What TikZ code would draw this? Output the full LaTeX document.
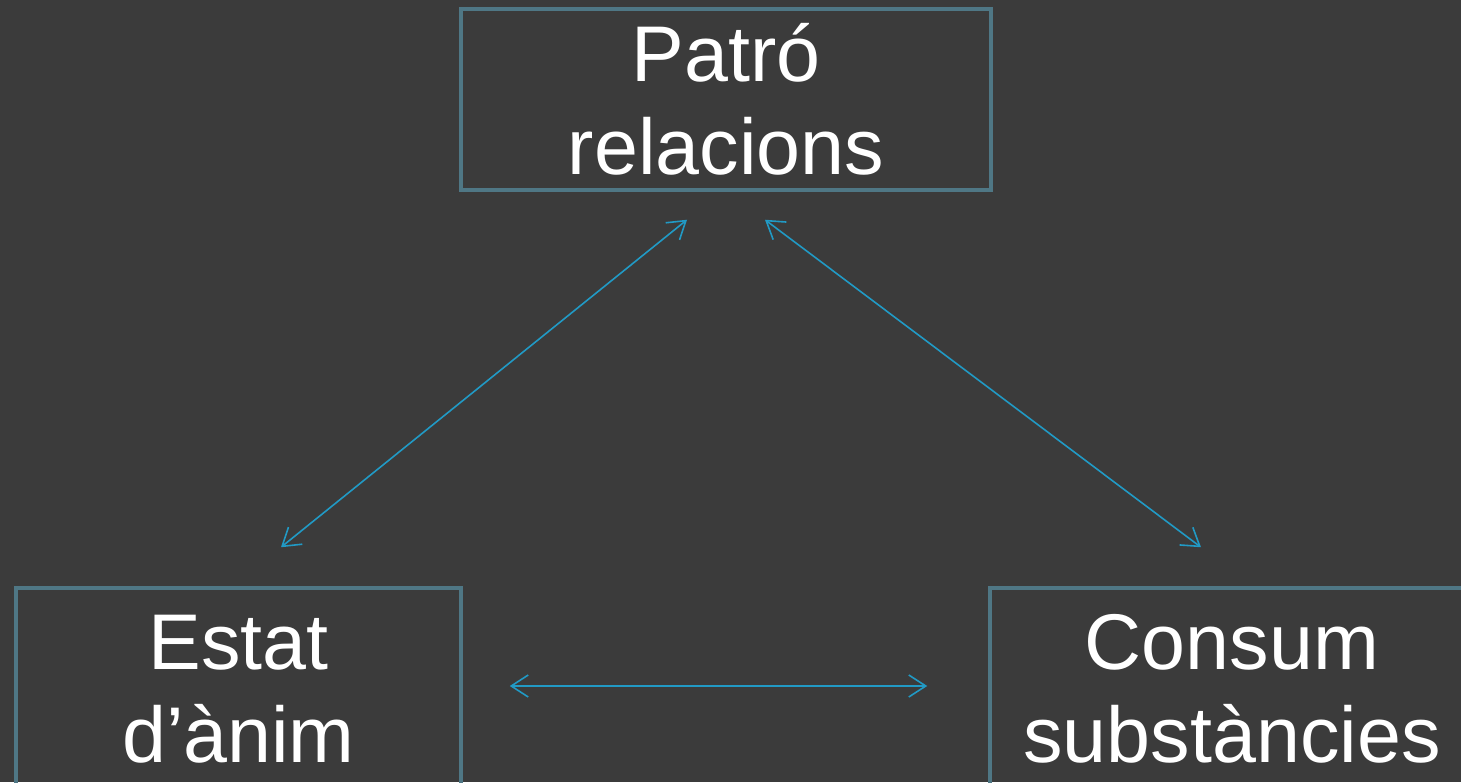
\documentclass[tikz,border=0pt]{standalone}
\usepackage{fontspec}
\setmainfont{Liberation Sans}
\usepackage{xcolor}
\definecolor{SlideGray}{HTML}{3B3B3B}
\definecolor{BoxTeal}{HTML}{4F7785}
\definecolor{LinkBlue}{HTML}{219AC5}
\usepackage{tikz}
\usetikzlibrary{arrows.meta, calc}

\begin{document}
\begin{tikzpicture}[x=1pt, y=1pt,
    >={Straight Barb[length=17pt, width=22pt]},
    concept/.style={draw=BoxTeal, line width=3.5pt, text=white, align=center,
      font=\fontsize{79}{93}\selectfont, inner sep=0pt},
    link/.style={<->, LinkBlue, line width=1.6pt}]
  % Background and frame
  \fill[SlideGray] (0,0) rectangle (1461,782);
  \clip (0,0) rectangle (1461,782);

  % Concepts
  \node[concept, minimum width=530pt, minimum height=181pt] (patro) at (726,682.5) {Patró\\relacions};
  \node[concept, minimum width=445pt, minimum height=202pt] (estat) at (238.5,93) {Estat\\d’ànim};
  \node[concept, minimum width=484pt, minimum height=202pt] (consum) at (1232,93) {Consum\\substàncies};

  % Links
  \draw[link] ($(patro.south)+(-39,-28)$) -- ($(estat.north)+(42.5,39)$);
  \draw[link] ($(patro.south)+(39,-28)$) -- ($(consum.north)+(-31,39)$);
  \draw[link] ($(estat.east)+(47,3)$) -- ($(consum.west)+(-61,3)$);
\end{tikzpicture}
\end{document}
